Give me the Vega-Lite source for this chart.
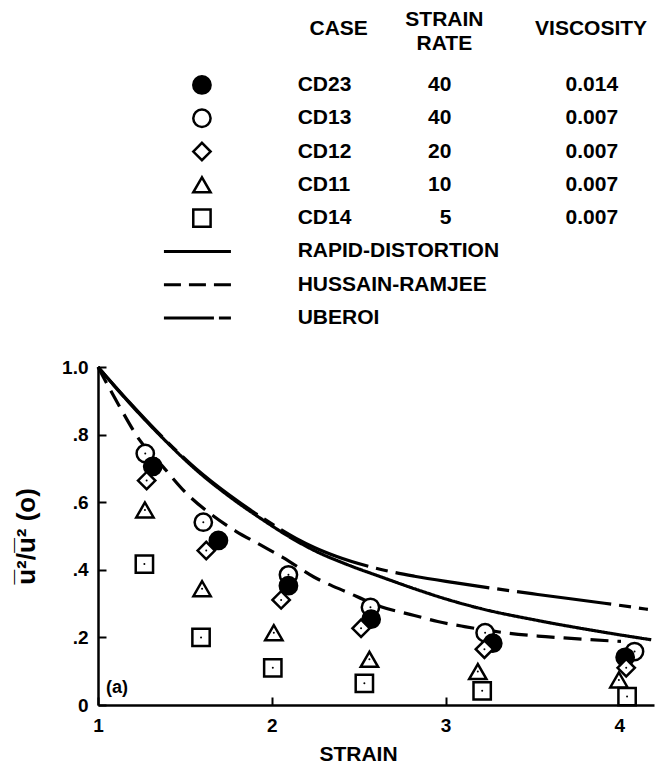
{
  "$schema": "https://vega.github.io/schema/vega-lite/v6.json",
  "padding": {"left": 13, "top": 0, "right": 0, "bottom": 0},
  "spacing": 34,
  "bounds": "flush",
  "config": {
    "view": {"stroke": null},
    "font": "Liberation Sans",
    "text": {"font": "Liberation Sans", "fontWeight": "bold", "fontSize": 21, "baseline": "middle", "color": "black"}
  },
  "resolve": {"scale": {"strokeDash": "independent"}},
  "datasets": {
    "cases": [
      {"row": "CD23", "case": "CD23", "rate": "40", "visc": "0.014"},
      {"row": "CD13", "case": "CD13", "rate": "40", "visc": "0.007"},
      {"row": "CD12", "case": "CD12", "rate": "20", "visc": "0.007"},
      {"row": "CD11", "case": "CD11", "rate": "10", "visc": "0.007"},
      {"row": "CD14", "case": "CD14", "rate": "5", "visc": "0.007"}
    ],
    "models": [
      {"row": "RAPID-DISTORTION"},
      {"row": "HUSSAIN-RAMJEE"},
      {"row": "UBEROI"}
    ],
    "points": [
      {"case": "CD13", "strain": 1.272, "ratio": 0.744},
      {"case": "CD13", "strain": 1.606, "ratio": 0.541},
      {"case": "CD13", "strain": 2.096, "ratio": 0.385},
      {"case": "CD13", "strain": 2.568, "ratio": 0.289},
      {"case": "CD13", "strain": 3.228, "ratio": 0.214},
      {"case": "CD13", "strain": 4.088, "ratio": 0.158},
      {"case": "CD23", "strain": 1.315, "ratio": 0.706},
      {"case": "CD23", "strain": 1.693, "ratio": 0.487},
      {"case": "CD23", "strain": 2.096, "ratio": 0.353},
      {"case": "CD23", "strain": 2.572, "ratio": 0.254},
      {"case": "CD23", "strain": 3.272, "ratio": 0.183},
      {"case": "CD23", "strain": 4.034, "ratio": 0.141},
      {"case": "CD12", "strain": 1.28, "ratio": 0.664},
      {"case": "CD12", "strain": 1.623, "ratio": 0.457},
      {"case": "CD12", "strain": 2.054, "ratio": 0.311},
      {"case": "CD12", "strain": 2.514, "ratio": 0.227},
      {"case": "CD12", "strain": 3.224, "ratio": 0.165},
      {"case": "CD12", "strain": 4.04, "ratio": 0.11},
      {"case": "CD11", "strain": 1.27, "ratio": 0.577},
      {"case": "CD11", "strain": 1.599, "ratio": 0.344},
      {"case": "CD11", "strain": 2.012, "ratio": 0.214},
      {"case": "CD11", "strain": 2.562, "ratio": 0.135},
      {"case": "CD11", "strain": 3.186, "ratio": 0.099},
      {"case": "CD11", "strain": 3.998, "ratio": 0.074},
      {"case": "CD14", "strain": 1.267, "ratio": 0.417},
      {"case": "CD14", "strain": 1.593, "ratio": 0.2},
      {"case": "CD14", "strain": 2.006, "ratio": 0.11},
      {"case": "CD14", "strain": 2.533, "ratio": 0.064},
      {"case": "CD14", "strain": 3.211, "ratio": 0.042},
      {"case": "CD14", "strain": 4.045, "ratio": 0.025}
    ],
    "curves": [
      {"model": "RAPID-DISTORTION", "strain": 1.0, "ratio": 1.0},
      {"model": "RAPID-DISTORTION", "strain": 1.18, "ratio": 0.894},
      {"model": "RAPID-DISTORTION", "strain": 1.372, "ratio": 0.79},
      {"model": "RAPID-DISTORTION", "strain": 1.564, "ratio": 0.696},
      {"model": "RAPID-DISTORTION", "strain": 1.756, "ratio": 0.617},
      {"model": "RAPID-DISTORTION", "strain": 1.948, "ratio": 0.548},
      {"model": "RAPID-DISTORTION", "strain": 2.14, "ratio": 0.486},
      {"model": "RAPID-DISTORTION", "strain": 2.245, "ratio": 0.457},
      {"model": "RAPID-DISTORTION", "strain": 2.437, "ratio": 0.415},
      {"model": "RAPID-DISTORTION", "strain": 2.629, "ratio": 0.379},
      {"model": "RAPID-DISTORTION", "strain": 2.821, "ratio": 0.344},
      {"model": "RAPID-DISTORTION", "strain": 3.013, "ratio": 0.312},
      {"model": "RAPID-DISTORTION", "strain": 3.205, "ratio": 0.285},
      {"model": "RAPID-DISTORTION", "strain": 3.531, "ratio": 0.25},
      {"model": "RAPID-DISTORTION", "strain": 3.915, "ratio": 0.215},
      {"model": "RAPID-DISTORTION", "strain": 4.184, "ratio": 0.193},
      {"model": "HUSSAIN-RAMJEE", "strain": 1.0, "ratio": 1.0},
      {"model": "HUSSAIN-RAMJEE", "strain": 1.123, "ratio": 0.884},
      {"model": "HUSSAIN-RAMJEE", "strain": 1.238, "ratio": 0.785},
      {"model": "HUSSAIN-RAMJEE", "strain": 1.372, "ratio": 0.706},
      {"model": "HUSSAIN-RAMJEE", "strain": 1.507, "ratio": 0.627},
      {"model": "HUSSAIN-RAMJEE", "strain": 1.641, "ratio": 0.568},
      {"model": "HUSSAIN-RAMJEE", "strain": 1.794, "ratio": 0.514},
      {"model": "HUSSAIN-RAMJEE", "strain": 1.93, "ratio": 0.475},
      {"model": "HUSSAIN-RAMJEE", "strain": 2.063, "ratio": 0.437},
      {"model": "HUSSAIN-RAMJEE", "strain": 2.245, "ratio": 0.378},
      {"model": "HUSSAIN-RAMJEE", "strain": 2.437, "ratio": 0.333},
      {"model": "HUSSAIN-RAMJEE", "strain": 2.629, "ratio": 0.291},
      {"model": "HUSSAIN-RAMJEE", "strain": 2.821, "ratio": 0.265},
      {"model": "HUSSAIN-RAMJEE", "strain": 2.955, "ratio": 0.247},
      {"model": "HUSSAIN-RAMJEE", "strain": 3.109, "ratio": 0.232},
      {"model": "HUSSAIN-RAMJEE", "strain": 3.339, "ratio": 0.214},
      {"model": "HUSSAIN-RAMJEE", "strain": 3.531, "ratio": 0.204},
      {"model": "HUSSAIN-RAMJEE", "strain": 3.723, "ratio": 0.197},
      {"model": "HUSSAIN-RAMJEE", "strain": 4.01, "ratio": 0.188},
      {"model": "UBEROI", "strain": 1.0, "ratio": 1.0},
      {"model": "UBEROI", "strain": 1.18, "ratio": 0.896},
      {"model": "UBEROI", "strain": 1.372, "ratio": 0.792},
      {"model": "UBEROI", "strain": 1.564, "ratio": 0.699},
      {"model": "UBEROI", "strain": 1.756, "ratio": 0.621},
      {"model": "UBEROI", "strain": 1.948, "ratio": 0.553},
      {"model": "UBEROI", "strain": 2.14, "ratio": 0.493},
      {"model": "UBEROI", "strain": 2.245, "ratio": 0.466},
      {"model": "UBEROI", "strain": 2.37, "ratio": 0.44},
      {"model": "UBEROI", "strain": 2.629, "ratio": 0.401},
      {"model": "UBEROI", "strain": 2.821, "ratio": 0.381},
      {"model": "UBEROI", "strain": 3.051, "ratio": 0.362},
      {"model": "UBEROI", "strain": 3.531, "ratio": 0.327},
      {"model": "UBEROI", "strain": 3.915, "ratio": 0.301},
      {"model": "UBEROI", "strain": 4.165, "ratio": 0.283}
    ]
  },
  "vconcat": [
    {
      "width": 556,
      "height": 333,
      "encoding": {
        "y": {
          "field": "row",
          "type": "nominal",
          "axis": null,
          "scale": {
            "type": "point",
            "domain": ["HEAD", "CD23", "CD13", "CD12", "CD11", "CD14", "RAPID-DISTORTION", "HUSSAIN-RAMJEE", "UBEROI"],
            "padding": 1,
            "align": 0.775
          }
        }
      },
      "layer": [
        {
          "data": {"name": "cases"},
          "mark": {"type": "point", "filled": true, "stroke": "black", "strokeWidth": 2.5, "opacity": 1},
          "encoding": {
            "x": {"datum": "sym", "type": "nominal", "axis": null,
                  "scale": {"type": "point", "domain": ["sym", "case", "rate", "visc"], "padding": 0.643, "align": 0.623}},
            "shape": {"field": "case", "type": "nominal", "legend": null,
                      "scale": {"domain": ["CD23", "CD13", "CD12", "CD11", "CD14"], "range": ["circle", "circle", "diamond", "triangle-up", "square"]}},
            "fill": {"field": "case", "type": "nominal", "legend": null,
                     "scale": {"domain": ["CD23", "CD13", "CD12", "CD11", "CD14"], "range": ["black", "white", "white", "white", "white"]}},
            "size": {"field": "case", "type": "nominal", "legend": null,
                     "scale": {"domain": ["CD23", "CD13", "CD12", "CD11", "CD14"], "range": [300, 300, 460, 400, 300]}}
          }
        },
        {
          "data": {"name": "cases"},
          "mark": {"type": "text", "align": "left", "dx": -34},
          "encoding": {
            "x": {"datum": "case", "type": "nominal"},
            "text": {"field": "case", "type": "nominal"}
          }
        },
        {
          "data": {"name": "cases"},
          "mark": {"type": "text", "align": "right", "dx": -10},
          "encoding": {
            "x": {"datum": "rate", "type": "nominal"},
            "text": {"field": "rate", "type": "nominal"}
          }
        },
        {
          "data": {"name": "cases"},
          "mark": {"type": "text", "align": "right", "dx": 27},
          "encoding": {
            "x": {"datum": "visc", "type": "nominal"},
            "text": {"field": "visc", "type": "nominal"}
          }
        },
        {
          "data": {"name": "models"},
          "mark": {"type": "rule", "strokeWidth": 3, "color": "black", "xOffset": -38, "x2Offset": 29},
          "encoding": {
            "x": {"datum": "sym", "type": "nominal"},
            "x2": {"datum": "sym"},
            "strokeDash": {"field": "row", "type": "nominal", "legend": null,
                           "scale": {"domain": ["RAPID-DISTORTION", "HUSSAIN-RAMJEE", "UBEROI"], "range": [[1, 0], [17, 8], [50, 5, 12, 5]]}}
          }
        },
        {
          "data": {"name": "models"},
          "mark": {"type": "text", "align": "left", "dx": -34},
          "encoding": {
            "x": {"datum": "case", "type": "nominal"},
            "text": {"field": "row", "type": "nominal"}
          }
        },
        {
          "data": {"values": [{"h": "CASE"}]},
          "mark": {"type": "text", "align": "center", "dx": 7, "dy": -23},
          "encoding": {
            "x": {"datum": "case", "type": "nominal"},
            "y": {"datum": "HEAD", "type": "nominal"},
            "text": {"field": "h", "type": "nominal"}
          }
        },
        {
          "data": {"values": [{"h": "STRAIN\nRATE"}]},
          "mark": {"type": "text", "align": "center", "dx": -17, "dy": -32, "lineBreak": "\n", "lineHeight": 24},
          "encoding": {
            "x": {"datum": "rate", "type": "nominal"},
            "y": {"datum": "HEAD", "type": "nominal"},
            "text": {"field": "h", "type": "nominal"}
          }
        },
        {
          "data": {"values": [{"h": "VISCOSITY"}]},
          "mark": {"type": "text", "align": "center", "dx": 0, "dy": -23},
          "encoding": {
            "x": {"datum": "visc", "type": "nominal"},
            "y": {"datum": "HEAD", "type": "nominal"},
            "text": {"field": "h", "type": "nominal"}
          }
        }
      ]
    },
    {
      "width": 556,
      "height": 338,
      "encoding": {
        "x": {
          "field": "strain", "type": "quantitative",
          "scale": {"domain": [1, 4.2], "nice": false, "zero": false},
          "axis": {
            "values": [1, 2, 3, 4], "format": "d", "grid": false,
            "labelFont": "Liberation Sans", "labelFontWeight": "bold", "labelFontSize": 19, "labelColor": "black",
            "labelPadding": 19, "labelFlush": false,
            "domainColor": "black", "domainWidth": 2.5,
            "tickColor": "black", "tickWidth": 2, "tickSize": -8,
            "title": "STRAIN", "titleFont": "Liberation Sans", "titleFontWeight": "bold", "titleFontSize": 21, "titleColor": "black",
            "titleX": 260, "titlePadding": 8
          }
        },
        "y": {
          "field": "ratio", "type": "quantitative",
          "scale": {"domain": [0, 1], "nice": false, "zero": false},
          "axis": {
            "values": [0, 0.2, 0.4, 0.6, 0.8, 1], "grid": false,
            "labelExpr": "datum.value == 1 ? '1.0' : datum.value == 0 ? '0' : replace(format(datum.value, '.1f'), '0.', '.')",
            "labelFont": "Liberation Sans", "labelFontWeight": "bold", "labelFontSize": 19, "labelColor": "black",
            "labelPadding": 18,
            "domainColor": "black", "domainWidth": 2.5,
            "tickColor": "black", "tickWidth": 2, "tickSize": -8,
            "title": "u\u0305\u00b2/u\u0305\u00b2 (o)", "titleFont": "Liberation Sans", "titleFontWeight": "bold", "titleFontSize": 26, "titleColor": "black",
            "titlePadding": 22
          }
        }
      },
      "layer": [
        {
          "data": {"name": "curves"},
          "mark": {"type": "line", "interpolate": "monotone", "strokeWidth": 3.2, "color": "black"},
          "encoding": {
            "detail": {"field": "model", "type": "nominal"},
            "strokeDash": {"field": "model", "type": "nominal", "legend": null,
                           "scale": {"domain": ["RAPID-DISTORTION", "HUSSAIN-RAMJEE", "UBEROI"], "range": [[1, 0], [18, 9], [95, 8, 12, 8]]}}
          }
        },
        {
          "data": {"name": "points"},
          "mark": {"type": "point", "filled": true, "stroke": "black", "strokeWidth": 2.5, "opacity": 1},
          "encoding": {
            "shape": {"field": "case", "type": "nominal", "legend": null,
                      "scale": {"domain": ["CD23", "CD13", "CD12", "CD11", "CD14"], "range": ["circle", "circle", "diamond", "triangle-up", "square"]}},
            "fill": {"field": "case", "type": "nominal", "legend": null,
                     "scale": {"domain": ["CD23", "CD13", "CD12", "CD11", "CD14"], "range": ["black", "white", "white", "white", "white"]}},
            "size": {"field": "case", "type": "nominal", "legend": null,
                     "scale": {"domain": ["CD23", "CD13", "CD12", "CD11", "CD14"], "range": [300, 300, 460, 400, 300]}}
          }
        },
        {
          "data": {"name": "points"},
          "mark": {"type": "point", "filled": true, "color": "black", "size": 4, "opacity": 1, "shape": "circle"}
        },
        {
          "data": {"values": [{"strain": 1.046, "ratio": 0.05, "label": "(a)"}]},
          "mark": {"type": "text", "align": "left", "fontSize": 18},
          "encoding": {"text": {"field": "label", "type": "nominal"}}
        }
      ]
    }
  ]
}
